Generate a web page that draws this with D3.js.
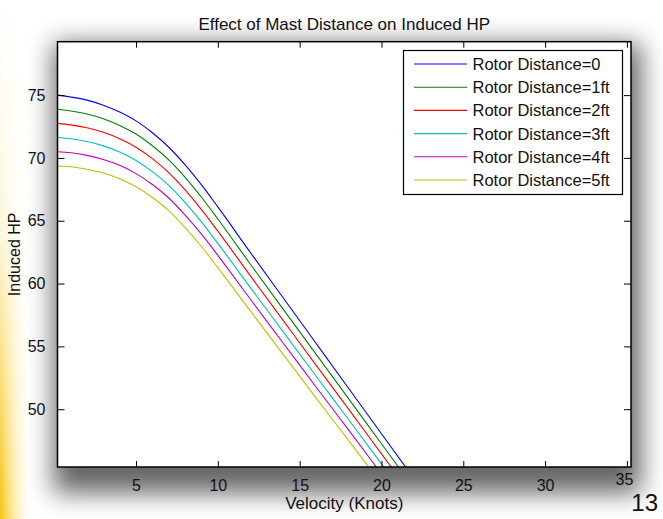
<!DOCTYPE html>
<html>
<head>
<meta charset="utf-8">
<script src="https://cdn.jsdelivr.net/npm/d3@7"></script>
<style>
  html, body { margin: 0; padding: 0; background: #fff; }
  svg { display: block; font-family: "Liberation Sans", Arial, sans-serif; }
</style>
</head>
<body>
<svg width="663" height="519"></svg>
<script>
// data
const velocity = [0.2, 1, 2, 3, 4, 5, 6, 7, 8, 9, 10, 12, 14, 16, 18, 20, 22];
const hp0 = [75.0, 74.85, 74.6, 74.2, 73.65, 72.95, 72.0, 70.85, 69.45, 67.85, 66.1, 62.45, 58.85, 55.25, 51.65, 48.05, 44.45];
const hp1 = [73.87, 73.74, 73.5, 73.12, 72.59, 71.9, 70.97, 69.84, 68.45, 66.87, 65.14, 61.52, 57.95, 54.38, 50.82, 47.25, 43.68];
const hp2 = [72.75, 72.63, 72.4, 72.04, 71.53, 70.85, 69.94, 68.83, 67.45, 65.89, 64.17, 60.59, 57.05, 53.51, 49.99, 46.45, 42.91];
const hp3 = [71.62, 71.52, 71.3, 70.96, 70.47, 69.8, 68.91, 67.82, 66.45, 64.91, 63.2, 59.66, 56.15, 52.64, 49.16, 45.65, 42.14];
const hp4 = [70.49, 70.41, 70.2, 69.88, 69.41, 68.75, 67.88, 66.81, 65.45, 63.93, 62.24, 58.73, 55.25, 51.77, 48.33, 44.85, 41.37];
const hp5 = [69.36, 69.3, 69.1, 68.8, 68.35, 67.7, 66.85, 65.8, 64.45, 62.95, 61.27, 57.8, 54.35, 50.9, 47.5, 44.05, 40.6];
const seriesNames = ['Rotor Distance=0', 'Rotor Distance=1ft', 'Rotor Distance=2ft',
  'Rotor Distance=3ft', 'Rotor Distance=4ft', 'Rotor Distance=5ft'];
const seriesColors = ['#0000ff', '#008000', '#ff0000', '#00bfbf', '#bf00bf', '#bfbf00'];
const xTicks = [5, 10, 15, 20, 25, 30, 35];
const yTicks = [50, 55, 60, 65, 70, 75];

const allSeries = [hp0, hp1, hp2, hp3, hp4, hp5];

const plot = { left: 57.5, right: 631, top: 41.7, bottom: 467 };

const svg = d3.select('svg');
const defs = svg.append('defs');

// slide background: yellow strip on the left, stronger towards the bottom
const yg = defs.append('linearGradient').attr('id', 'yellowH');
yg.append('stop').attr('offset', '0%').attr('stop-color', '#f4c000').attr('stop-opacity', 0.95);
yg.append('stop').attr('offset', '45%').attr('stop-color', '#fbe27a').attr('stop-opacity', 0.6);
yg.append('stop').attr('offset', '100%').attr('stop-color', '#ffffff').attr('stop-opacity', 0);

const vm = defs.append('linearGradient').attr('id', 'fadeV').attr('x1', 0).attr('x2', 0).attr('y1', 0).attr('y2', 1);
vm.append('stop').attr('offset', '0%').attr('stop-color', '#fff').attr('stop-opacity', 0);
vm.append('stop').attr('offset', '45%').attr('stop-color', '#fff').attr('stop-opacity', 0.15);
vm.append('stop').attr('offset', '100%').attr('stop-color', '#fff').attr('stop-opacity', 1);
defs.append('mask').attr('id', 'stripMask')
  .append('rect').attr('x', 0).attr('y', 0).attr('width', 40).attr('height', 519)
  .attr('fill', 'url(#fadeV)');

svg.append('rect').attr('width', 663).attr('height', 519).attr('fill', '#ffffff');
svg.append('rect').attr('x', 0).attr('y', 0).attr('width', 34).attr('height', 519)
  .attr('fill', 'url(#yellowH)').attr('mask', 'url(#stripMask)');

// drop shadow behind the axes
const blur = defs.append('filter').attr('id', 'blur')
  .attr('x', '-20%').attr('y', '-20%').attr('width', '140%').attr('height', '140%');
blur.append('feGaussianBlur').attr('stdDeviation', 13);

svg.append('rect')
  .attr('x', plot.left - 4).attr('y', plot.top + 2)
  .attr('width', plot.right - plot.left + 14).attr('height', plot.bottom - plot.top + 24)
  .attr('fill', '#000').attr('opacity', 0.6).attr('filter', 'url(#blur)');

svg.append('rect')
  .attr('x', plot.left).attr('y', plot.top)
  .attr('width', plot.right - plot.left).attr('height', plot.bottom - plot.top)
  .attr('fill', '#fff');

const x = d3.scaleLinear().domain([0.2, 35.25]).range([plot.left, plot.right]);
const y = d3.scaleLinear().domain([45.4, 79.25]).range([plot.bottom, plot.top]);

defs.append('clipPath').attr('id', 'clip')
  .append('rect').attr('x', plot.left).attr('y', plot.top)
  .attr('width', plot.right - plot.left).attr('height', plot.bottom - plot.top);

const line = d3.line()
  .x((d, i) => x(velocity[i]))
  .y(d => y(d))
  .curve(d3.curveMonotoneX);

svg.append('g').attr('clip-path', 'url(#clip)')
  .selectAll('path')
  .data(allSeries)
  .join('path')
    .attr('d', line)
    .attr('fill', 'none')
    .attr('stroke', (d, i) => seriesColors[i])
    .attr('stroke-width', 1.1);

// axes, MATLAB style: ticks inside on all four sides
const axisFont = g => g.selectAll('text')
  .attr('font-family', '"Liberation Sans", Arial, sans-serif')
  .attr('font-size', 16).attr('fill', '#111');

svg.append('g')
  .attr('transform', `translate(0,${plot.bottom})`)
  .call(d3.axisBottom(x).tickValues(xTicks).tickSize(-6).tickPadding(13).tickFormat(d3.format('d')))
  .call(g => g.select('.domain').remove())
  .call(axisFont)
  // the last label sits a little raised next to the slide number
  .call(g => g.selectAll('.tick').filter(d => d === 35).select('text')
    .attr('dx', -3).attr('dy', '0.3em'));

svg.append('g')
  .attr('transform', `translate(0,${plot.top})`)
  .call(d3.axisTop(x).tickValues(xTicks).tickSize(-6).tickFormat(''))
  .call(g => g.select('.domain').remove());

svg.append('g')
  .attr('transform', `translate(${plot.left},0)`)
  .call(d3.axisLeft(y).tickValues(yTicks).tickSize(-7).tickPadding(12).tickFormat(d3.format('d')))
  .call(g => g.select('.domain').remove())
  .call(axisFont);

svg.append('g')
  .attr('transform', `translate(${plot.right},0)`)
  .call(d3.axisRight(y).tickValues(yTicks).tickSize(-7).tickFormat(''))
  .call(g => g.select('.domain').remove());

svg.selectAll('.tick line').attr('stroke', '#000').attr('stroke-width', 1);

svg.append('rect')
  .attr('x', plot.left).attr('y', plot.top)
  .attr('width', plot.right - plot.left).attr('height', plot.bottom - plot.top)
  .attr('fill', 'none').attr('stroke', '#000').attr('stroke-width', 1.5);

// titles
svg.append('text')
  .attr('x', (plot.left + plot.right) / 2).attr('y', 30)
  .attr('text-anchor', 'middle').attr('font-size', 17).attr('fill', '#111')
  .text('Effect of Mast Distance on Induced HP');

svg.append('text')
  .attr('x', (plot.left + plot.right) / 2).attr('y', 509)
  .attr('text-anchor', 'middle').attr('font-size', 17).attr('fill', '#111')
  .text('Velocity (Knots)');

svg.append('text')
  .attr('transform', `translate(20,${(plot.top + plot.bottom) / 2}) rotate(-90)`)
  .attr('text-anchor', 'middle').attr('font-size', 16).attr('fill', '#111')
  .text('Induced HP');

// legend
const legend = svg.append('g').attr('transform', 'translate(403.5,50.5)');
legend.append('rect')
  .attr('width', 219).attr('height', 144)
  .attr('fill', '#fff').attr('stroke', '#000').attr('stroke-width', 1.2);

const row = legend.selectAll('g.row')
  .data(seriesNames)
  .join('g')
    .attr('class', 'row')
    .attr('transform', (d, i) => `translate(0,${13.5 + i * 23.2})`);

row.append('line')
  .attr('x1', 10.5).attr('x2', 63.5)
  .attr('stroke', (d, i) => seriesColors[i]).attr('stroke-width', 1.1);

row.append('text')
  .attr('x', 69).attr('y', 6)
  .attr('font-size', 16.5).attr('fill', '#111')
  .text(d => d);

// slide number
svg.append('text')
  .attr('x', 658).attr('y', 511)
  .attr('text-anchor', 'end')
  .attr('font-size', 24).attr('fill', '#111')
  .text('13');
</script>
</body>
</html>
